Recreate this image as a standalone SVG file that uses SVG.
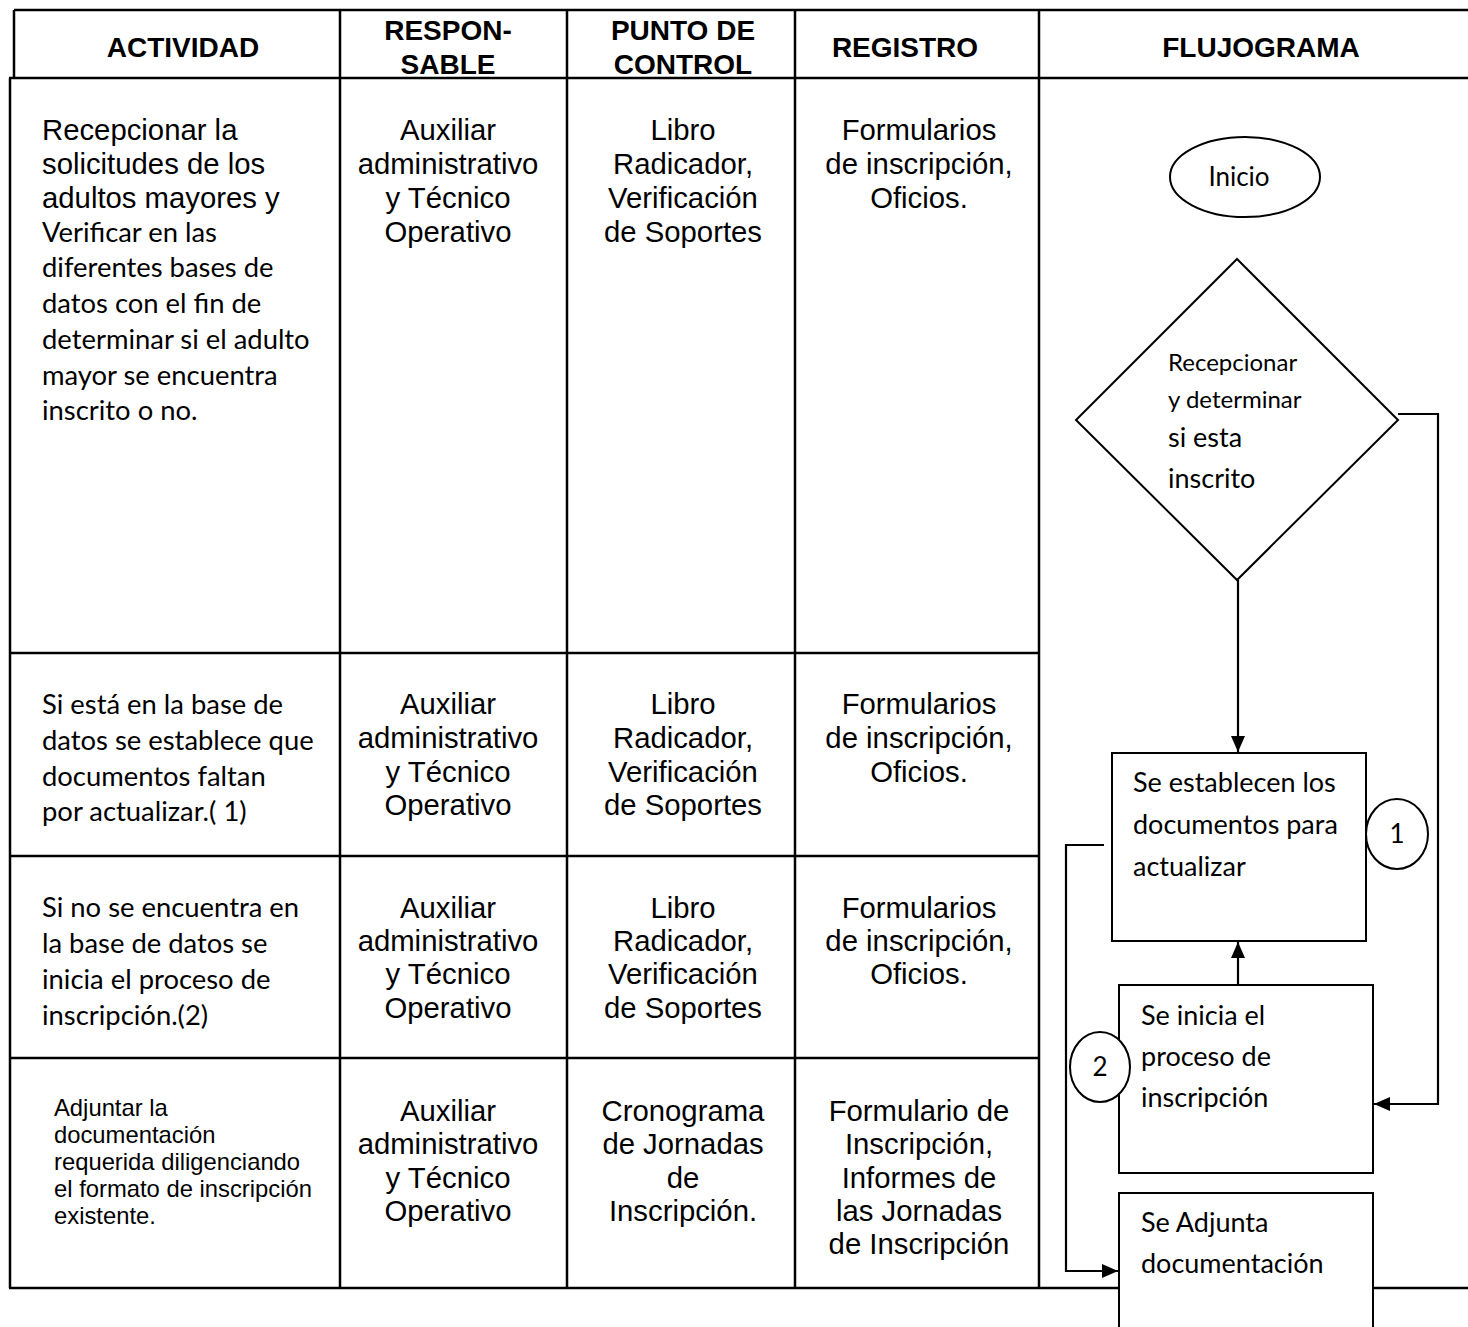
<svg xmlns="http://www.w3.org/2000/svg" width="1468" height="1327" viewBox="0 0 1468 1327">
<style>
.tl{stroke:#000;stroke-width:2.5;fill:none}
.sh{stroke:#000;stroke-width:2;fill:#fff}
.cn{stroke:#000;stroke-width:2.2;fill:none}
.h{font-family:"Liberation Sans",Arial,sans-serif;font-weight:bold;font-size:28px;text-anchor:middle;fill:#000}
.a{font-family:"Liberation Sans",Arial,sans-serif;font-size:29.3px;fill:#000}
.ac{font-family:"Liberation Sans",Arial,sans-serif;font-size:29.3px;fill:#000;text-anchor:middle}
.as{font-family:"Liberation Sans",Arial,sans-serif;font-size:23.8px;fill:#000}
.c{font-family:Lato,"Open Sans",sans-serif;font-size:27.4px;fill:#000}
.cb{font-family:Lato,"Open Sans",sans-serif;font-size:27px;fill:#000}
.cs{font-family:Lato,"Open Sans",sans-serif;font-size:24px;fill:#000}
.cm{font-family:Lato,"Open Sans",sans-serif;font-size:26px;fill:#000;text-anchor:middle}
</style>
<defs>
<marker id="arr" viewBox="0 0 16 14" refX="16" refY="7" markerWidth="16" markerHeight="14" markerUnits="userSpaceOnUse" orient="auto">
<path d="M0,0 L16,7 L0,14 z" fill="#000"/>
</marker>
</defs>
<rect width="1468" height="1327" fill="#fff"/>
<g id="table">
<line class="tl" x1="14" y1="10" x2="1468" y2="10"/>
<line class="tl" x1="14" y1="10" x2="14" y2="78"/>
<line class="tl" x1="9" y1="78" x2="1468" y2="78"/>
<line class="tl" x1="10" y1="78" x2="10" y2="1288"/>
<line class="tl" x1="340" y1="10" x2="340" y2="1288"/>
<line class="tl" x1="567" y1="10" x2="567" y2="1288"/>
<line class="tl" x1="795" y1="10" x2="795" y2="1288"/>
<line class="tl" x1="1039" y1="10" x2="1039" y2="1288"/>
<line class="tl" x1="10" y1="653" x2="1039" y2="653"/>
<line class="tl" x1="10" y1="856" x2="1039" y2="856"/>
<line class="tl" x1="10" y1="1058" x2="1039" y2="1058"/>
<line class="tl" x1="9" y1="1288" x2="1119" y2="1288"/>
<line class="tl" x1="1373" y1="1288" x2="1468" y2="1288"/>
</g>
<g id="header">
<text class="h" x="183" y="57">ACTIVIDAD</text>
<text class="h" x="448" y="40">RESPON-</text>
<text class="h" x="448" y="74">SABLE</text>
<text class="h" x="683" y="40">PUNTO DE</text>
<text class="h" x="683" y="74">CONTROL</text>
<text class="h" x="905" y="57">REGISTRO</text>
<text class="h" x="1261" y="57">FLUJOGRAMA</text>
</g>
<g id="row1">
<text class="a" x="42" y="140">Recepcionar la</text>
<text class="a" x="42" y="174">solicitudes de los</text>
<text class="a" x="42" y="208">adultos mayores y</text>
<text class="c" x="42" y="242">Verificar en las</text>
<text class="c" x="42" y="277">diferentes bases de</text>
<text class="c" x="42" y="313">datos con el fin de</text>
<text class="c" x="42" y="349">determinar si el adulto</text>
<text class="c" x="42" y="385">mayor se encuentra</text>
<text class="c" x="42" y="420">inscrito o no.</text>
<text class="ac" x="448" y="140">Auxiliar</text>
<text class="ac" x="448" y="174">administrativo</text>
<text class="ac" x="448" y="208">y Técnico</text>
<text class="ac" x="448" y="242">Operativo</text>
<text class="ac" x="683" y="140">Libro</text>
<text class="ac" x="683" y="174">Radicador,</text>
<text class="ac" x="683" y="208">Verificación</text>
<text class="ac" x="683" y="242">de Soportes</text>
<text class="ac" x="919" y="140">Formularios</text>
<text class="ac" x="919" y="174">de inscripción,</text>
<text class="ac" x="919" y="208">Oficios.</text>
</g>
<g id="row2">
<text class="c" x="42" y="714">Si está en la base de</text>
<text class="c" x="42" y="750">datos se establece que</text>
<text class="c" x="42" y="786">documentos faltan</text>
<text class="c" x="42" y="821">por actualizar.( 1)</text>
<text class="ac" x="448" y="714">Auxiliar</text>
<text class="ac" x="448" y="748">administrativo</text>
<text class="ac" x="448" y="782">y Técnico</text>
<text class="ac" x="448" y="815">Operativo</text>
<text class="ac" x="683" y="714">Libro</text>
<text class="ac" x="683" y="748">Radicador,</text>
<text class="ac" x="683" y="782">Verificación</text>
<text class="ac" x="683" y="815">de Soportes</text>
<text class="ac" x="919" y="714">Formularios</text>
<text class="ac" x="919" y="748">de inscripción,</text>
<text class="ac" x="919" y="782">Oficios.</text>
</g>
<g id="row3">
<text class="c" x="42" y="917">Si no se encuentra en</text>
<text class="c" x="42" y="953">la base de datos se</text>
<text class="c" x="42" y="989">inicia el proceso de</text>
<text class="c" x="42" y="1025">inscripción.(2)</text>
<text class="ac" x="448" y="918">Auxiliar</text>
<text class="ac" x="448" y="951">administrativo</text>
<text class="ac" x="448" y="984">y Técnico</text>
<text class="ac" x="448" y="1018">Operativo</text>
<text class="ac" x="683" y="918">Libro</text>
<text class="ac" x="683" y="951">Radicador,</text>
<text class="ac" x="683" y="984">Verificación</text>
<text class="ac" x="683" y="1018">de Soportes</text>
<text class="ac" x="919" y="918">Formularios</text>
<text class="ac" x="919" y="951">de inscripción,</text>
<text class="ac" x="919" y="984">Oficios.</text>
</g>
<g id="row4">
<text class="as" x="54" y="1116">Adjuntar la</text>
<text class="as" x="54" y="1143">documentación</text>
<text class="as" x="54" y="1170">requerida diligenciando</text>
<text class="as" x="54" y="1197">el formato de inscripción</text>
<text class="as" x="54" y="1224">existente.</text>
<text class="ac" x="448" y="1121">Auxiliar</text>
<text class="ac" x="448" y="1154">administrativo</text>
<text class="ac" x="448" y="1188">y Técnico</text>
<text class="ac" x="448" y="1221">Operativo</text>
<text class="ac" x="683" y="1121">Cronograma</text>
<text class="ac" x="683" y="1154">de Jornadas</text>
<text class="ac" x="683" y="1188">de</text>
<text class="ac" x="683" y="1221">Inscripción.</text>
<text class="ac" x="919" y="1121">Formulario de</text>
<text class="ac" x="919" y="1154">Inscripción,</text>
<text class="ac" x="919" y="1188">Informes de</text>
<text class="ac" x="919" y="1221">las Jornadas</text>
<text class="ac" x="919" y="1254">de Inscripción</text>
</g>
<g id="connectors">
<line class="cn" x1="1238" y1="580" x2="1238" y2="752" marker-end="url(#arr)"/>
<polyline class="cn" points="1398,414 1438,414 1438,1104 1374,1104" marker-end="url(#arr)"/>
<line class="cn" x1="1238" y1="985" x2="1238" y2="942" marker-end="url(#arr)"/>
<polyline class="cn" points="1104,845 1066,845 1066,1271 1118,1271" marker-end="url(#arr)"/>
</g>
<g id="inicio">
<ellipse class="sh" cx="1245" cy="177" rx="75" ry="40"/>
<text class="cm" x="1239" y="186">Inicio</text>
</g>
<g id="decision">
<polygon class="sh" points="1237,259 1398,420 1237,580 1076,420"/>
<text class="cs" x="1168" y="371">Recepcionar</text>
<text class="cs" x="1168" y="408">y determinar</text>
<text class="cb" x="1168" y="447">si esta</text>
<text class="cb" x="1168" y="488">inscrito</text>
</g>
<g id="box-establecen">
<rect class="sh" x="1112" y="753" width="254" height="188"/>
<text class="cb" x="1133" y="792">Se establecen los</text>
<text class="cb" x="1133" y="834">documentos para</text>
<text class="cb" x="1133" y="876">actualizar</text>
</g>
<g id="conector-1">
<ellipse class="sh" cx="1397" cy="834" rx="31" ry="35"/>
<text class="cm" x="1397" y="843">1</text>
</g>
<g id="box-inicia">
<rect class="sh" x="1119" y="985" width="254" height="188"/>
<text class="cb" x="1141" y="1025">Se inicia el</text>
<text class="cb" x="1141" y="1066">proceso de</text>
<text class="cb" x="1141" y="1107">inscripción</text>
</g>
<g id="conector-2">
<ellipse class="sh" cx="1100" cy="1067" rx="30" ry="35"/>
<text class="cm" x="1100" y="1076">2</text>
</g>
<g id="box-adjunta">
<rect class="sh" x="1119" y="1193" width="254" height="150"/>
<text class="cb" x="1141" y="1232">Se Adjunta</text>
<text class="cb" x="1141" y="1273">documentación</text>
</g>
</svg>
